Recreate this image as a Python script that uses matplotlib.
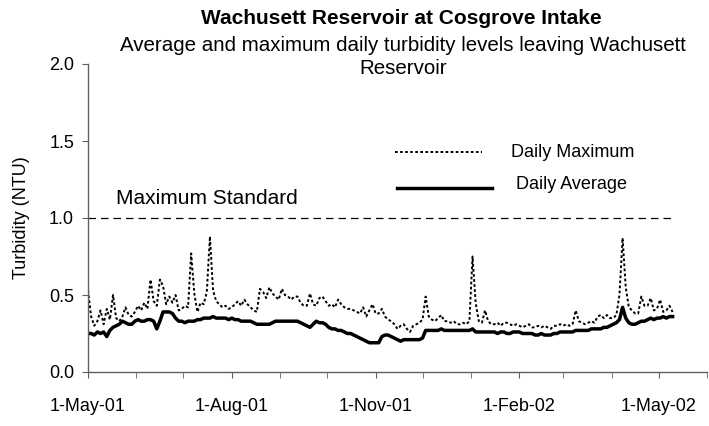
import matplotlib
matplotlib.use("Agg")
import matplotlib.pyplot as plt
import matplotlib.dates as mdates
from matplotlib.lines import Line2D
from matplotlib.ticker import FuncFormatter, MultipleLocator
import pandas as pd

plt.rcParams['font.family'] = ['Liberation Sans', 'DejaVu Sans']

# readings every second day, 1-May-01 .. 9-May-02
dates = pd.date_range("2001-05-01", periods=188, freq="2D")

daily_avg = [
    0.25, 0.25, 0.24, 0.26, 0.25, 0.26, 0.23, 0.27, 0.29, 0.30,
    0.31, 0.33, 0.32, 0.31, 0.31, 0.33, 0.34, 0.33, 0.33, 0.34,
    0.34, 0.33, 0.28, 0.33, 0.39, 0.39, 0.39, 0.38, 0.35, 0.33,
    0.33, 0.32, 0.33, 0.33, 0.33, 0.34, 0.34, 0.35, 0.35, 0.35,
    0.36, 0.35, 0.35, 0.35, 0.35, 0.34, 0.35, 0.34, 0.34, 0.33,
    0.33, 0.33, 0.33, 0.32, 0.31, 0.31, 0.31, 0.31, 0.31, 0.32,
    0.33, 0.33, 0.33, 0.33, 0.33, 0.33, 0.33, 0.33, 0.32, 0.31,
    0.30, 0.29, 0.31, 0.33, 0.32, 0.32, 0.31, 0.29, 0.28, 0.28,
    0.27, 0.27, 0.26, 0.25, 0.25, 0.24, 0.23, 0.22, 0.21, 0.20,
    0.19, 0.19, 0.19, 0.19, 0.23, 0.24, 0.24, 0.23, 0.22, 0.21,
    0.20, 0.21, 0.21, 0.21, 0.21, 0.21, 0.21, 0.22, 0.27, 0.27,
    0.27, 0.27, 0.27, 0.28, 0.27, 0.27, 0.27, 0.27, 0.27, 0.27,
    0.27, 0.27, 0.27, 0.28, 0.26, 0.26, 0.26, 0.26, 0.26, 0.26,
    0.26, 0.25, 0.26, 0.26, 0.25, 0.25, 0.26, 0.26, 0.26, 0.25,
    0.25, 0.25, 0.25, 0.24, 0.24, 0.25, 0.24, 0.24, 0.24, 0.25,
    0.25, 0.26, 0.26, 0.26, 0.26, 0.26, 0.27, 0.27, 0.27, 0.27,
    0.27, 0.28, 0.28, 0.28, 0.28, 0.29, 0.29, 0.30, 0.31, 0.32,
    0.34, 0.42, 0.35, 0.32, 0.31, 0.31, 0.32, 0.33, 0.33, 0.34,
    0.35, 0.34, 0.35, 0.35, 0.36, 0.35, 0.36, 0.36,
]

daily_max = [
    0.53, 0.36, 0.30, 0.33, 0.40, 0.31, 0.41, 0.34, 0.50, 0.35,
    0.33, 0.36, 0.42, 0.37, 0.36, 0.39, 0.43, 0.40, 0.45, 0.41,
    0.60, 0.46, 0.43, 0.60, 0.56, 0.44, 0.49, 0.45, 0.50, 0.40,
    0.41, 0.43, 0.42, 0.77, 0.51, 0.39, 0.45, 0.44, 0.52, 0.88,
    0.53, 0.46, 0.44, 0.42, 0.43, 0.41, 0.42, 0.44, 0.46, 0.43,
    0.47, 0.44, 0.42, 0.40, 0.39, 0.54, 0.52, 0.48, 0.55, 0.51,
    0.49, 0.47, 0.54, 0.50, 0.49, 0.47, 0.49, 0.49, 0.45, 0.43,
    0.43, 0.51, 0.44, 0.43, 0.48, 0.49, 0.46, 0.43, 0.44, 0.42,
    0.47, 0.44, 0.42, 0.41, 0.41, 0.40, 0.39, 0.38, 0.42, 0.36,
    0.40, 0.44, 0.38, 0.38, 0.41, 0.36, 0.34, 0.33, 0.31, 0.28,
    0.30, 0.31, 0.28, 0.26, 0.30, 0.31, 0.32, 0.34, 0.49, 0.36,
    0.34, 0.33, 0.35, 0.37, 0.33, 0.33, 0.32, 0.33, 0.31, 0.31,
    0.32, 0.31, 0.33, 0.75, 0.45, 0.33, 0.32, 0.40, 0.33, 0.31,
    0.31, 0.32, 0.30, 0.32, 0.32, 0.31, 0.30, 0.31, 0.30, 0.29,
    0.30, 0.31, 0.29, 0.29, 0.30, 0.29, 0.30, 0.29, 0.28, 0.30,
    0.30, 0.31, 0.30, 0.31, 0.30, 0.31, 0.40, 0.33, 0.32, 0.31,
    0.32, 0.33, 0.32, 0.36, 0.37, 0.35, 0.37, 0.35, 0.35, 0.37,
    0.50, 0.87, 0.55, 0.42, 0.40, 0.38, 0.38, 0.49, 0.43, 0.43,
    0.48, 0.40, 0.41, 0.47, 0.39, 0.40, 0.43, 0.39,
]

max_standard = 1.0

fig = plt.figure(figsize=(7.09, 4.26), dpi=100)
ax = fig.add_axes([88 / 709, 54 / 426, 619 / 709, 308 / 426])

ax.plot(dates, daily_max, color='black', lw=1.4, linestyle=(0, (1.4, 1.2)))
ax.plot(dates, daily_avg, color='black', lw=2.5)
ax.plot([dates[0], dates[-1]], [max_standard, max_standard], color='black',
        lw=0.9, linestyle=(0, (6, 4)))

ax.set_xlim(pd.Timestamp("2001-05-01"), pd.Timestamp("2002-06-01"))
ax.set_ylim(0, 2.0)
ax.yaxis.set_major_locator(MultipleLocator(0.5))
ax.yaxis.set_major_formatter(FuncFormatter(lambda v, p: f"{v:.1f}"))

ax.xaxis.set_major_locator(mdates.MonthLocator(bymonth=[2, 5, 8, 11]))
ax.xaxis.set_minor_locator(mdates.MonthLocator())
ax.xaxis.set_major_formatter(FuncFormatter(
    lambda x, p: f"{mdates.num2date(x).day}-{mdates.num2date(x).strftime('%b-%y')}"))

for s in ['top', 'right']:
    ax.spines[s].set_visible(False)
for s in ['left', 'bottom']:
    ax.spines[s].set_color('#606060')
    ax.spines[s].set_linewidth(1.0)
ax.tick_params(which='both', direction='out', length=4, color='#606060',
               labelsize=13)
ax.tick_params(axis='x', which='both', pad=15)
ax.tick_params(axis='y', pad=6)

ax.set_ylabel("Turbidity (NTU)", fontsize=13)
ax.yaxis.set_label_coords(-0.093, 0.5)

# hand-placed legend, as in the original
ax.add_line(Line2D([0.496, 0.637], [0.714, 0.714], transform=ax.transAxes,
                   color='black', lw=1.4, linestyle=(0, (1.4, 1.2))))
ax.text(0.683, 0.714, "Daily Maximum", transform=ax.transAxes, fontsize=13, va='center')
ax.add_line(Line2D([0.499, 0.653], [0.597, 0.597], transform=ax.transAxes,
                   color='black', lw=2.5))
ax.text(0.691, 0.61, "Daily Average", transform=ax.transAxes, fontsize=13, va='center')
ax.text(0.045, 0.562, "Maximum Standard", transform=ax.transAxes, fontsize=15, va='center')

fig.text(0.566, 0.956, "Wachusett Reservoir at Cosgrove Intake", ha='center',
         va='center', fontsize=15, fontweight='bold')
fig.text(0.569, 0.866, "Average and maximum daily turbidity levels leaving Wachusett\nReservoir",
         ha='center', va='center', fontsize=14.8, linespacing=1.28)

fig.savefig("out.png", dpi=100)
